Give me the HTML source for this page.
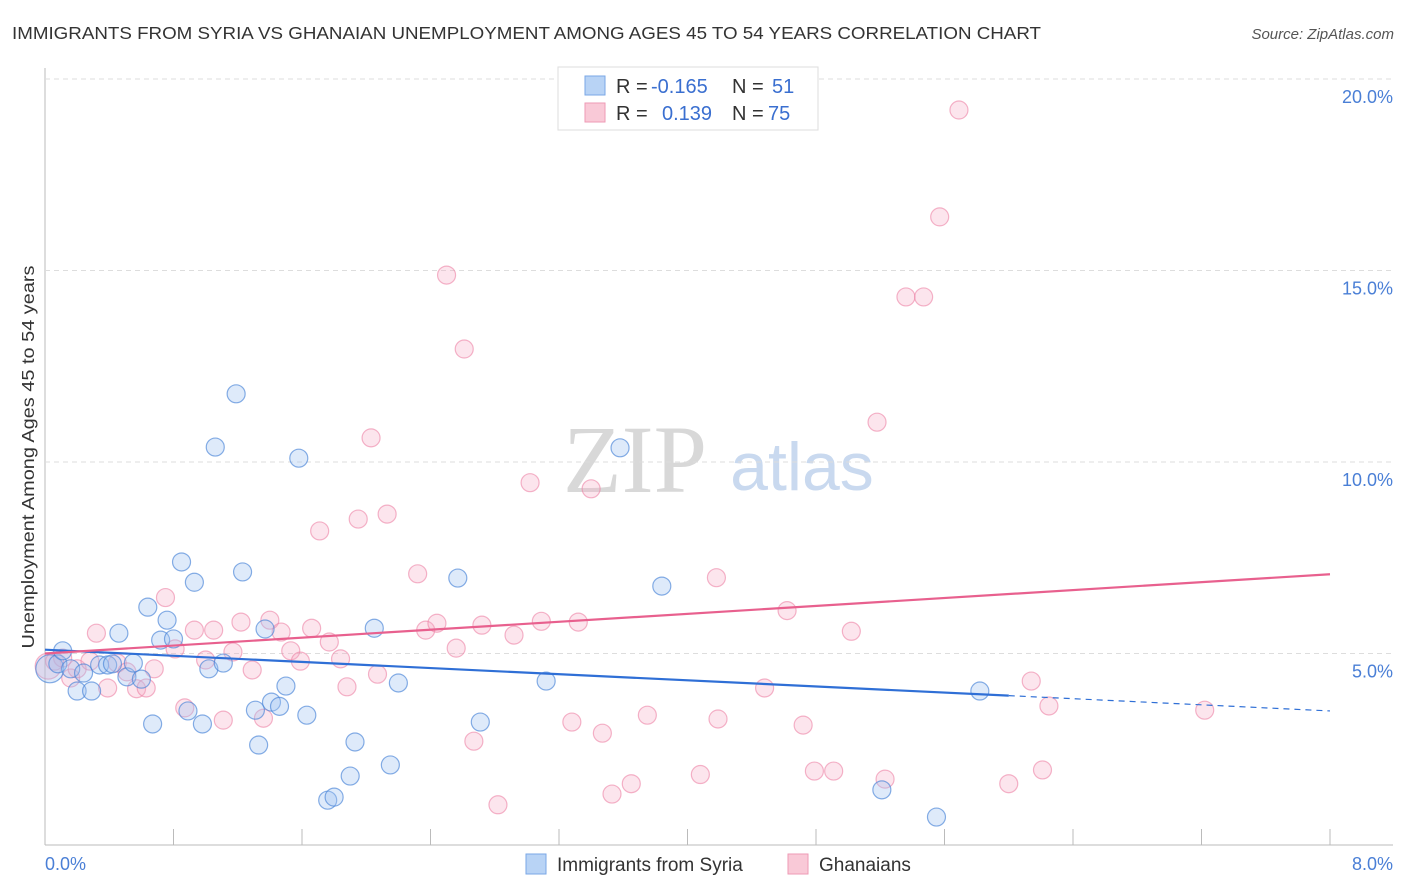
<!DOCTYPE html>
<html><head><meta charset="utf-8"><style>
body{margin:0;background:#fff;font-family:"Liberation Sans",sans-serif;}
#wrap{position:relative;width:1406px;height:892px;overflow:hidden}
</style></head><body>
<div id="wrap">
<svg id="svg" width="1406" height="892" xmlns="http://www.w3.org/2000/svg">
<text x="12" y="39" font-size="17.5" fill="#333" textLength="1029" lengthAdjust="spacingAndGlyphs">IMMIGRANTS FROM SYRIA VS GHANAIAN UNEMPLOYMENT AMONG AGES 45 TO 54 YEARS CORRELATION CHART</text>
<text x="1394" y="39" font-size="15" fill="#555" font-style="italic" text-anchor="end">Source: ZipAtlas.com</text>
<text x="0" y="0" transform="translate(34,457) rotate(-90)" font-size="17.5" fill="#333" text-anchor="middle" textLength="383" lengthAdjust="spacingAndGlyphs">Unemployment Among Ages 45 to 54 years</text>
<text x="635" y="492" font-size="96" fill="#d8d8d8" font-family="Liberation Serif,serif" text-anchor="middle">ZIP</text>
<text x="802" y="490" font-size="68" fill="#c9d9ef" text-anchor="middle">atlas</text>
<g id="grid"></g><g id="pts"></g><g id="lines"></g>
<g>
<rect x="558" y="67" width="260" height="63" fill="#fff" stroke="#ddd"/>
<rect x="585" y="76" width="20" height="19" fill="#b8d3f5" stroke="#7aa7e6"/>
<rect x="585" y="103" width="20" height="19" fill="#f9c9d7" stroke="#ee9ab4"/>
<text x="616" y="93" font-size="20" fill="#333">R = <tspan x="651" fill="#3a6fd0">-0.165</tspan><tspan x="732">N = </tspan><tspan x="772" fill="#3a6fd0">51</tspan></text>
<text x="616" y="120" font-size="20" fill="#333">R = <tspan x="662" fill="#3a6fd0">0.139</tspan><tspan x="732">N = </tspan><tspan x="768" fill="#3a6fd0">75</tspan></text>
</g>
<g>
<rect x="526" y="854" width="20" height="20" fill="#b8d3f5" stroke="#7aa7e6"/>
<text x="557" y="871" font-size="19" fill="#333">Immigrants from Syria</text>
<rect x="788" y="854" width="20" height="20" fill="#f9c9d7" stroke="#ee9ab4"/>
<text x="819" y="871" font-size="19" fill="#333">Ghanaians</text>
</g>
</svg>
</div>
<script>
const yTicks=[5,10,15,20];
const yTickLabels=["5.0%","10.0%","15.0%","20.0%"];
const xTickLabels=["0.0%","8.0%"];
const syriaX=[0.03,0.08,0.11,0.16,0.2,0.24,0.29,0.34,0.39,0.42,0.46,0.51,0.55,0.6,0.64,0.67,0.72,0.76,0.8,0.85,0.89,0.93,0.98,1.02,1.06,1.11,1.19,1.23,1.31,1.33,1.37,1.41,1.46,1.5,1.58,1.63,1.76,1.8,1.9,1.93,2.05,2.15,2.2,2.57,2.71,3.12,3.58,3.84,5.21,5.55,5.82];
const syriaY=[4.6,4.73,5.07,4.6,4.02,4.49,4.02,4.7,4.7,4.73,5.53,4.39,4.75,4.33,6.21,3.16,5.35,5.87,5.38,7.39,3.5,6.86,3.16,4.6,10.39,4.75,11.78,7.13,3.52,2.61,5.64,3.73,3.62,4.15,10.1,3.39,1.17,1.25,1.8,2.69,5.66,2.09,4.23,6.97,3.21,4.28,10.37,6.76,1.44,0.73,4.02];
const ghX=[0.02,0.06,0.11,0.16,0.2,0.28,0.32,0.39,0.45,0.51,0.57,0.63,0.68,0.75,0.81,0.87,0.93,1.0,1.05,1.11,1.17,1.22,1.29,1.36,1.4,1.47,1.53,1.59,1.66,1.71,1.77,1.84,1.88,2.03,1.95,2.07,2.13,2.32,2.37,2.44,2.5,2.56,2.61,2.67,2.72,2.82,2.92,3.02,3.09,3.28,3.32,3.4,3.47,3.53,3.65,3.75,4.08,4.18,4.19,4.48,4.62,4.72,4.79,4.91,5.02,5.18,5.23,5.36,5.47,5.57,5.69,6.0,6.14,6.21,6.25,7.22];
const ghY=[4.67,4.8,4.88,4.36,4.6,4.8,5.53,4.1,4.75,4.52,4.08,4.1,4.6,6.46,5.12,3.58,5.61,4.83,5.61,3.26,5.04,5.82,4.57,3.31,5.87,5.56,5.07,4.8,5.66,8.2,5.3,4.86,4.13,10.63,8.51,4.46,8.64,7.08,5.61,5.79,14.88,5.14,12.95,2.71,5.74,1.05,5.48,9.46,5.84,3.21,5.82,9.3,2.92,1.33,1.6,3.39,1.84,6.98,3.29,4.1,6.12,3.13,1.93,1.93,5.58,11.04,1.72,14.31,14.31,16.4,19.19,1.6,4.28,1.96,3.63,3.52];
const syriaTrend=[5.1,3.5];const syriaTrendEnd=[6.0,8.0];
const ghTrend=[5.0,7.07];
const X=v=>45+v/0.8*128.5, Y=v=>845-v/5*191.5;
const NS="http://www.w3.org/2000/svg";
function mk(t,a,p){const e=document.createElementNS(NS,t);for(const k in a)e.setAttribute(k,a[k]);p.appendChild(e);return e;}
const grid=document.getElementById('grid');
let ax=mk('line',{x1:45,y1:68,x2:45,y2:845,stroke:'#bbb'},grid);


let bx=mk('line',{x1:45,y1:845,x2:1393,y2:845,stroke:'#bbb'},grid);


yTicks.forEach((t,i)=>{
 const g=mk('line',{x1:45,y1:Y(t),x2:1393,y2:Y(t),stroke:'#ddd','stroke-dasharray':'5,4'},grid);
 
 
 const tx=mk('text',{x:1393,y:Y(t)+24,'font-size':18,fill:'#4a7fd6','text-anchor':'end'},grid);tx.textContent=yTickLabels[i];
 
 
});
for(let i=1;i<=10;i++){const l=mk('line',{x1:X(i*0.8),y1:829,x2:X(i*0.8),y2:845,stroke:'#bbb'},grid);
 
 }
[[0,45,'start'],[8,1393,'end']].forEach((d,i)=>{const tx=mk('text',{x:d[1],y:870,'font-size':18,fill:'#4a7fd6','text-anchor':d[2]},grid);tx.textContent=xTickLabels[i];
 
 });
const pts=document.getElementById('pts');
ghX.forEach((x,i)=>{const c=mk('circle',{cx:X(x),cy:Y(ghY[i]),r:i==0?13:9,fill:'rgba(246,170,195,0.3)',stroke:'rgba(236,130,165,0.6)','stroke-width':1.2},pts);
 
 });
syriaX.forEach((x,i)=>{const c=mk('circle',{cx:X(x),cy:Y(syriaY[i]),r:i==0?14:9,fill:'rgba(160,195,240,0.35)',stroke:'rgba(70,130,215,0.65)','stroke-width':1.2},pts);
 
 });
const L=document.getElementById('lines');
let a=mk('line',{x1:X(0),y1:Y(syriaTrend[0]),x2:X(syriaTrendEnd[0]),y2:Y(syriaTrend[0]+(syriaTrend[1]-syriaTrend[0])*syriaTrendEnd[0]/syriaTrendEnd[1]),stroke:'#2f6fd6','stroke-width':2.2},L);


let b=mk('line',{x1:a.getAttribute('x2'),y1:a.getAttribute('y2'),x2:X(8),y2:Y(syriaTrend[1]),stroke:'#2f6fd6','stroke-width':1.2,'stroke-dasharray':'6,5'},L);


let c=mk('line',{x1:X(0),y1:Y(ghTrend[0]),x2:X(8),y2:Y(ghTrend[1]),stroke:'#e8608e','stroke-width':2.2},L);


</script>
</body></html>
